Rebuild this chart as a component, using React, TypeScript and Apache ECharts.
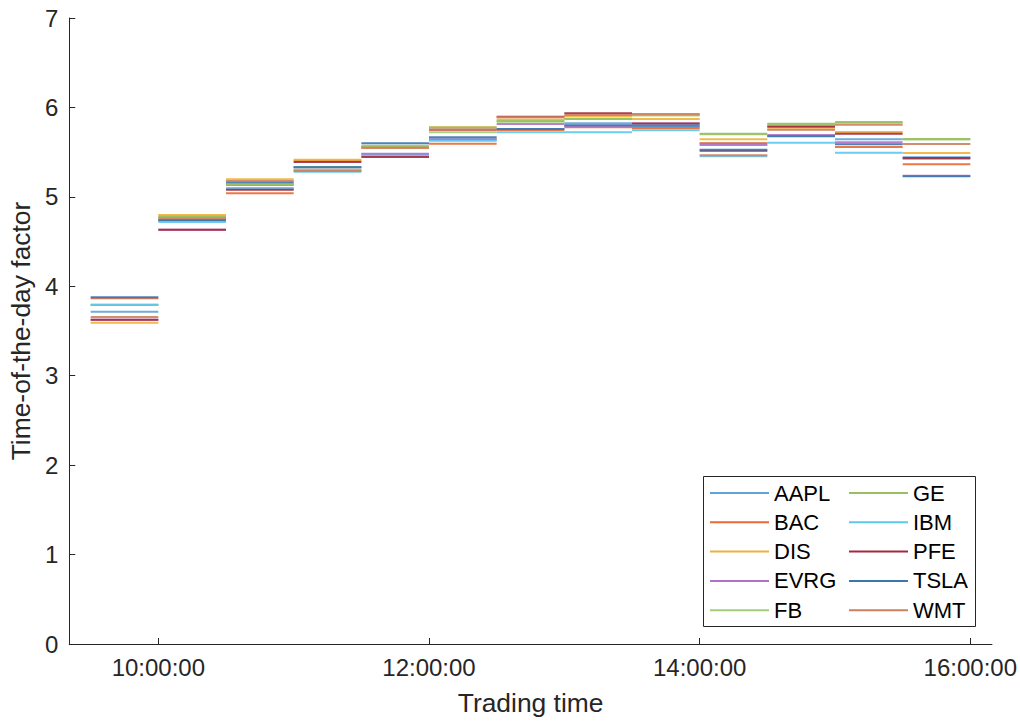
import React, { useEffect, useRef } from "react";
import * as echarts from "echarts";

// Half-hour bins, start times in minutes since midnight (9:30 ... 15:30)
const binStarts = [570, 600, 630, 660, 690, 720, 750, 780, 810, 840, 870, 900, 930];
const binLength = 30;

const tickValues = [600, 720, 840, 960];
const tickLabels = ["10:00:00", "12:00:00", "14:00:00", "16:00:00"];

const stocks = ["AAPL", "BAC", "DIS", "EVRG", "FB", "GE", "IBM", "PFE", "TSLA", "WMT"];
const colors = ["#5fa3d9", "#e86a33", "#eeb23a", "#b072c8", "#a5cc78", "#98c060", "#5cc8f0", "#a32a3e", "#3a76b0", "#cf7f5e"];

const AAPL = [3.716, 4.730, 5.133, 5.335, 5.475, 5.643, 5.760, 5.822, 5.781, 5.598, 5.680, 5.643, 5.442];
const BAC = [3.867, 4.745, 5.040, 5.405, 5.550, 5.595, 5.747, 5.778, 5.766, 5.600, 5.790, 5.557, 5.364];
const DIS = [3.593, 4.797, 5.196, 5.415, 5.561, 5.778, 5.865, 5.901, 5.870, 5.643, 5.755, 5.725, 5.490];
const EVRG = [3.626, 4.633, 5.090, 5.304, 5.483, 5.640, 5.815, 5.792, 5.820, 5.580, 5.692, 5.610, 5.237];
const FB = [3.795, 4.775, 5.144, 5.300, 5.572, 5.722, 5.840, 5.874, 5.910, 5.700, 5.810, 5.830, 5.640];
const GE = [3.791, 4.780, 5.140, 5.330, 5.561, 5.775, 5.848, 5.870, 5.915, 5.706, 5.818, 5.837, 5.647];
const IBM = [3.791, 4.720, 5.100, 5.280, 5.460, 5.628, 5.722, 5.722, 5.744, 5.453, 5.606, 5.494, 5.423];
const PFE = [3.626, 4.633, 5.080, 5.390, 5.446, 5.751, 5.896, 5.934, 5.820, 5.516, 5.784, 5.706, 5.435];
const TSLA = [3.878, 4.740, 5.163, 5.330, 5.599, 5.666, 5.759, 5.800, 5.798, 5.527, 5.677, 5.588, 5.230];
const WMT = [3.656, 4.760, 5.177, 5.289, 5.550, 5.750, 5.890, 5.915, 5.926, 5.465, 5.750, 5.807, 5.591];

const values = [AAPL, BAC, DIS, EVRG, FB, GE, IBM, PFE, TSLA, WMT];

export default function App() {
  const ref = useRef<HTMLDivElement>(null);
  useEffect(() => {
    if (!ref.current) return;
    const chart = echarts.init(ref.current, undefined, { renderer: "svg" });
    const font = "Liberation Sans, Arial, Helvetica, sans-serif";
    const series = stocks.map((name, i) => {
      const data: any[] = [];
      values[i].forEach((v, b) => {
        const s = binStarts[b];
        data.push([s, v], [s + binLength, v], [s + binLength, "-"]);
      });
      return {
        name,
        type: "line",
        data,
        symbol: "none",
        connectNulls: false,
        color: colors[i],
        lineStyle: { width: 2, color: colors[i], opacity: 0.9 },
      };
    });
    const legendCommon = {
      orient: "vertical",
      top: 482,
      icon: "rect",
      itemWidth: 59,
      itemHeight: 2,
      itemGap: 7.3,
      padding: 0,
      textStyle: { fontSize: 22, fontFamily: font, color: "#000", lineHeight: 22, padding: [0, 0, 0, 0] },
    };
    chart.setOption({
      animation: false,
      color: colors,
      grid: { left: 68, right: 28, top: 18, bottom: 80 },
      legend: [
        { ...legendCommon, left: 710, data: stocks.slice(0, 5) },
        { ...legendCommon, left: 849, data: stocks.slice(5) },
      ],
      graphic: [
        {
          type: "rect",
          shape: { x: 703.5, y: 476.5, width: 272, height: 150 },
          style: { fill: "#fff", stroke: "#262626", lineWidth: 1 },
          z: 0,
          zlevel: 0,
        },
      ],
      xAxis: {
        type: "value",
        min: 560.5,
        max: 969.6,
        name: "Trading time",
        nameLocation: "middle",
        nameGap: 46,
        nameTextStyle: { fontSize: 26.4, fontFamily: font, color: "#262626" },
        axisLine: { show: true, lineStyle: { color: "#262626", width: 1 } },
        axisTick: { show: true, inside: true, length: 6, customValues: tickValues, lineStyle: { color: "#262626" } },
        axisLabel: {
          customValues: tickValues,
          formatter: (v: number) => tickLabels[tickValues.indexOf(v)] ?? "",
          fontSize: 24,
          fontFamily: font,
          color: "#262626",
          margin: 11,
        },
        splitLine: { show: false },
      },
      yAxis: {
        type: "value",
        min: 0,
        max: 7,
        interval: 1,
        name: "Time-of-the-day factor",
        nameLocation: "middle",
        nameGap: 28,
        nameTextStyle: { fontSize: 26.4, fontFamily: font, color: "#262626" },
        axisLine: { show: true, lineStyle: { color: "#262626", width: 1 } },
        axisTick: { show: true, inside: true, length: 6, lineStyle: { color: "#262626" } },
        axisLabel: { fontSize: 24, fontFamily: font, color: "#262626", margin: 11 },
        splitLine: { show: false },
      },
      series,
    });
    return () => chart.dispose();
  }, []);
  return <div ref={ref} style={{ width: 1020, height: 724, position: "absolute", left: 0, top: 0 }} />;
}
